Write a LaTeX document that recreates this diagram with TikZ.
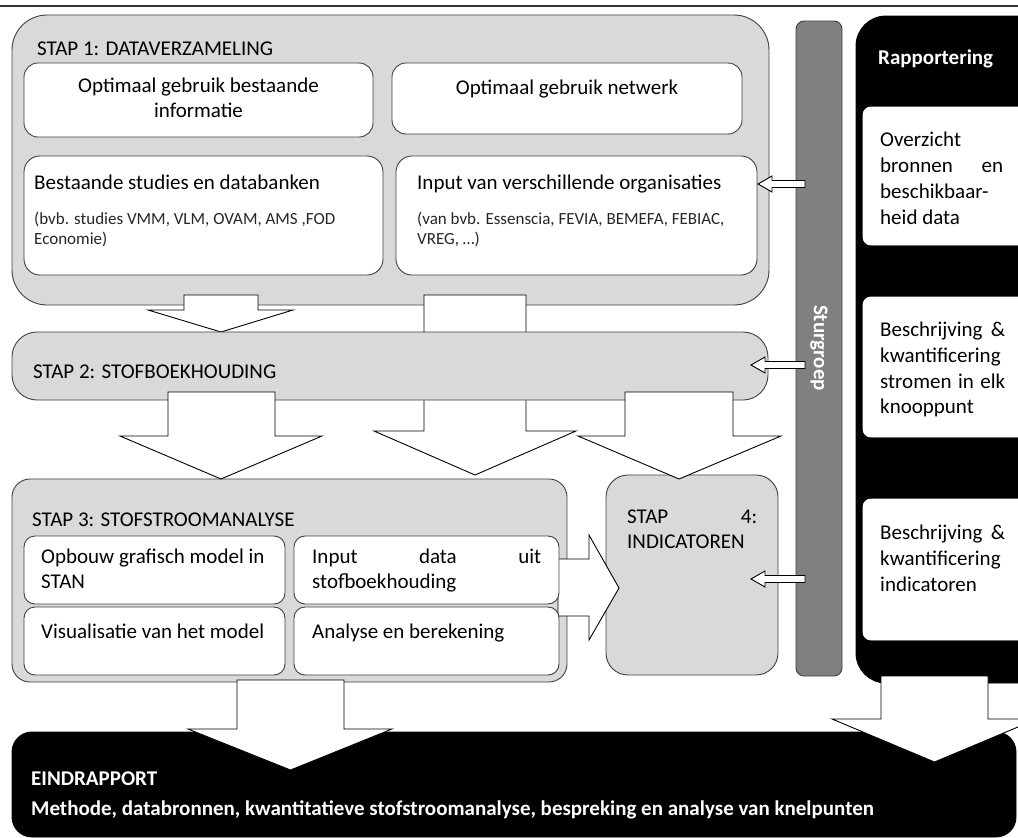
\documentclass[tikz,border=0pt]{standalone}
\usepackage{fontspec}
\setmainfont{Carlito}
\usetikzlibrary{fit}
\definecolor{stapgray}{HTML}{D9D9D9}
\definecolor{bordergray}{HTML}{404040}
\definecolor{sturgray}{HTML}{808080}
\tikzset{
  stapbox/.style={draw=bordergray, fill=stapgray, line width=0.9pt, inner sep=0pt},
  whitebox/.style={draw=bordergray, fill=white, line width=0.9pt, inner sep=0pt},
  blackbox/.style={draw=black, fill=black, line width=0.9pt, inner sep=0pt},
  blockarrow/.style={draw=black, fill=white, line width=0.9pt, line join=miter},
  lbl/.style={anchor=base west, inner sep=0pt, font=\fontsize{21}{26}\selectfont},
  clbl/.style={lbl, anchor=base},
  sublbl/.style={lbl, font=\fontsize{17}{21}\selectfont, text=black!85},
  wlbl/.style={lbl, text=white, font=\bfseries\fontsize{21}{26}\selectfont}
}
\newcommand\sturarrow[2]{%
  \draw[blockarrow] (#1,#2) -- ({#1+14},{#2-8}) -- ({#1+14},{#2-3.5}) -- (805,{#2-3.5})
    -- (805,{#2+3.5}) -- ({#1+14},{#2+3.5}) -- ({#1+14},{#2+8}) -- cycle;}
\begin{document}
\begin{tikzpicture}[x=1pt,y=-1pt]
\useasboundingbox (0,0) rectangle (1018,838);
\clip (0,0) rectangle (1018,838);
\fill[white] (0,0) rectangle (1018,838);
\draw[black!80, line width=1.2pt] (0,6) -- (1018,6);

% Rapportering column
\node[blackbox, rounded corners=30pt, fit={(856,16) (1060,683)}] (rap) {};
\node[wlbl] (raptitle) at (878,64) {Rapportering};
\node[whitebox, draw=white, rounded corners=8pt, fit={(863,107) (1040,245)}] (rapA) {};
\node[whitebox, draw=white, rounded corners=8pt, fit={(863,297) (1040,437)}] (rapB) {};
\node[whitebox, draw=white, rounded corners=8pt, fit={(863,499) (1040,640)}] (rapC) {};
\node[lbl] (a1) at (880,146) {Overzicht};
\node[lbl] (a2) at (880,172) {\makebox[123pt][s]{bronnen\hfill en}};
\node[lbl] (a3) at (880,198) {beschikbaar-};
\node[lbl] (a4) at (880,224) {heid data};
\node[lbl] (b1) at (880,336) {\makebox[125pt][s]{Beschrijving\hfill\&}};
\node[lbl] (b2) at (880,362) {kwantificering};
\node[lbl] (b3) at (880,388) {\makebox[125pt][s]{stromen\hfill in\hfill elk}};
\node[lbl] (b4) at (880,413) {knooppunt};
\node[lbl] (c1) at (880,539) {\makebox[125pt][s]{Beschrijving\hfill\&}};
\node[lbl] (c2) at (880,565) {kwantificering};
\node[lbl] (c3) at (880,591) {indicatoren};

% Sturgroep bar
\node[stapbox, fill=sturgray, rounded corners=8pt, fit={(796,21) (842,676)}] (stur) {};
\node[inner sep=0pt, rotate=-90, text=white, font=\bfseries\fontsize{21}{26}\selectfont] (sturtxt) at (819,348) {Sturgroep};

% Stap 1
\node[stapbox, rounded corners=35pt, fit={(12,15) (769,305)}] (stap1) {};
\node[lbl] (s1txt) at (37,55) {STAP 1: DATAVERZAMELING};
\node[whitebox, rounded corners=14pt, fit={(24,63) (373,137)}] (box1) {};
\node[whitebox, rounded corners=14pt, fit={(392,63) (742,134)}] (box2) {};
\node[whitebox, rounded corners=16pt, fit={(24,156) (383,275)}] (box3) {};
\node[whitebox, rounded corners=16pt, fit={(396,156) (757,275)}] (box4) {};
\node[clbl] (box1t1) at (198.5,92) {Optimaal gebruik bestaande};
\node[clbl] (box1t2) at (198.5,117) {informatie};
\node[clbl] (box2t) at (567,94) {Optimaal gebruik netwerk};
\node[lbl] (box3t) at (34,189) {Bestaande studies en databanken};
\node[sublbl] (box3s1) at (34,224) {(bvb. studies VMM, VLM, OVAM, AMS ,FOD};
\node[sublbl] (box3s2) at (34,244) {Economie)};
\node[lbl] (box4t) at (417,189) {Input van verschillende organisaties};
\node[sublbl] (box4s1) at (417,224) {(van bvb. Essenscia, FEVIA, BEMEFA, FEBIAC,};
\node[sublbl] (box4s2) at (417,244) {VREG, …)};

% long middle arrow (behind stap 2)
\draw[blockarrow] (424,295) -- (526,295) -- (526,431) -- (576,431) -- (475,475) -- (374,431) -- (424,431) -- cycle;
% arrow stap1 -> stap2
\draw[blockarrow] (184,295) -- (258,295) -- (258,310) -- (293,310) -- (221,332) -- (148,310) -- (184,310) -- cycle;

% Stap 2
\node[stapbox, rounded corners=25pt, fit={(12,332) (768,400)}] (stap2) {};
\node[lbl] (s2txt) at (33,378) {STAP 2: STOFBOEKHOUDING};

% Stap 3 and 4
\node[stapbox, rounded corners=18pt, fit={(12,479) (567,682)}] (stap3) {};
\node[lbl] (s3txt) at (32,526) {STAP 3: STOFSTROOMANALYSE};
\node[stapbox, rounded corners=22pt, fit={(606,475) (778,675)}] (stap4) {};
\node[lbl] (s4t1) at (627,523) {\makebox[130pt][s]{STAP\hfill 4:}};
\node[lbl] (s4t2) at (627,548) {INDICATOREN};

% arrows stap2 -> stap3 / stap4
\draw[blockarrow] (168,392) -- (275,392) -- (275,436) -- (322,436) -- (221,479) -- (120,436) -- (168,436) -- cycle;
\draw[blockarrow] (625,392) -- (733,392) -- (733,436) -- (781,436) -- (679,479) -- (578,436) -- (625,436) -- cycle;
% arrow stap3 -> stap4
\draw[blockarrow] (558,559) -- (589,559) -- (589,535) -- (619,588) -- (589,640) -- (589,616) -- (558,616) -- cycle;

% Stap 3 inner boxes
\node[whitebox, rounded corners=11pt, fit={(24,536) (285,604)}] (i1) {};
\node[whitebox, rounded corners=11pt, fit={(294,536) (559,604)}] (i2) {};
\node[whitebox, rounded corners=11pt, fit={(24,607) (285,675)}] (i3) {};
\node[whitebox, rounded corners=11pt, fit={(294,607) (559,675)}] (i4) {};
\node[lbl] (i1a) at (41,563) {Opbouw grafisch model in};
\node[lbl] (i1b) at (41,588) {STAN};
\node[lbl] (i2a) at (312,563) {\makebox[229pt][s]{Input\hfill data\hfill uit}};
\node[lbl] (i2b) at (312,588) {stofboekhouding};
\node[lbl] (i3a) at (41,638) {Visualisatie van het model};
\node[lbl] (i4a) at (312,638) {Analyse en berekening};

% Sturgroep arrows
\sturarrow{758}{184}
\sturarrow{751}{365}
\sturarrow{751}{579}

% Eindrapport
\node[blackbox, rounded corners=20pt, fit={(12,732) (1016,837)}] (eind) {};
\node[wlbl] (eindt) at (31,785) {EINDRAPPORT};
\node[wlbl] (eindm) at (31,815) {Methode, databronnen, kwantitatieve stofstroomanalyse, bespreking en analyse van knelpunten};

% big arrows to Eindrapport
\draw[blockarrow] (237,680) -- (344,680) -- (344,729) -- (392,729) -- (290.5,770) -- (188,729) -- (237,729) -- cycle;
\draw[blockarrow] (881,676) -- (988,676) -- (988,719) -- (1037,719) -- (934.5,762) -- (832,719) -- (881,719) -- cycle;
\end{tikzpicture}
\end{document}
